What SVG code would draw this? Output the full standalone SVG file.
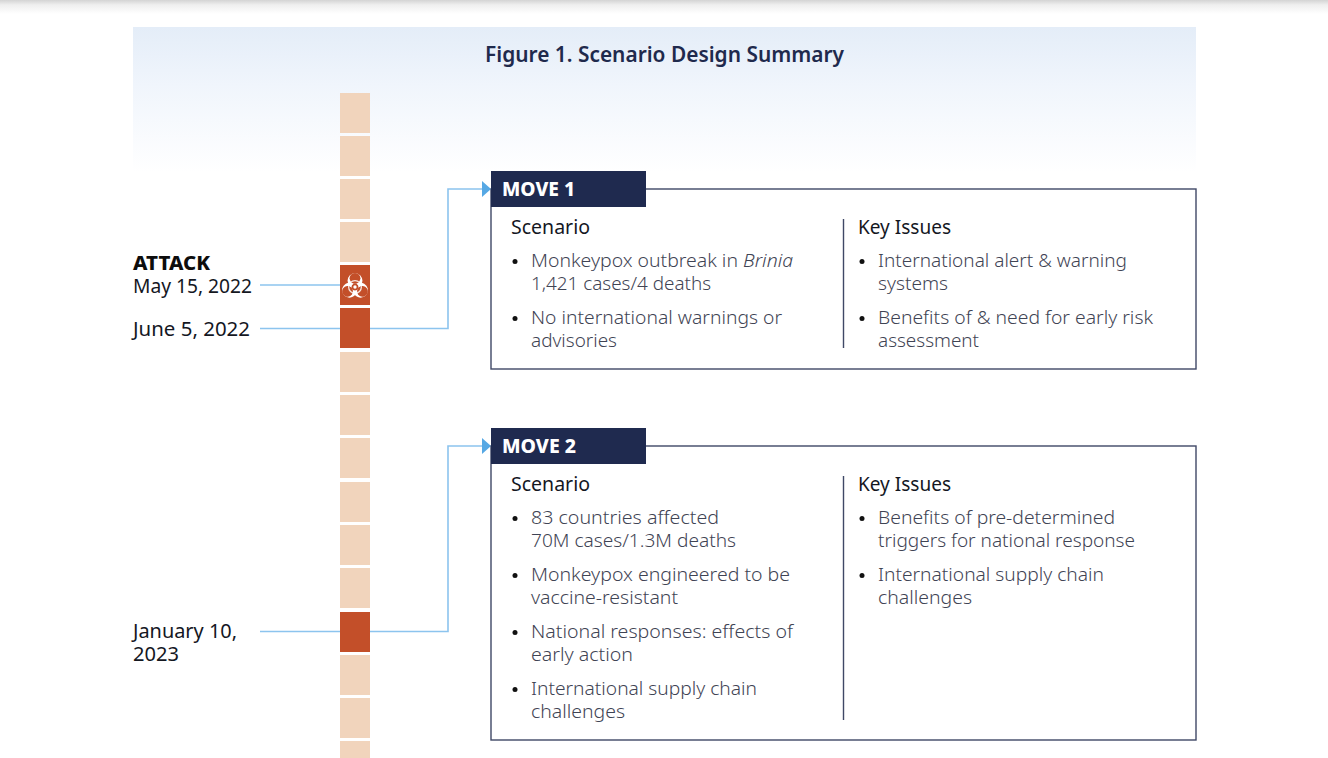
<svg xmlns="http://www.w3.org/2000/svg" width="1328" height="758" viewBox="0 0 1328 758">
<defs>
<linearGradient id="topShade" x1="0" y1="0" x2="0" y2="1"><stop offset="0" stop-color="#d4d4d4"/><stop offset="0.35" stop-color="#efefef"/><stop offset="1" stop-color="#ffffff"/></linearGradient>
<linearGradient id="band" x1="0" y1="0" x2="0" y2="1"><stop offset="0" stop-color="#e4edf8"/><stop offset="0.4" stop-color="#f0f5fc"/><stop offset="1" stop-color="#ffffff"/></linearGradient>
<mask id="lobeCut" maskUnits="userSpaceOnUse" x="-14" y="-14" width="28" height="28">
<rect x="-14" y="-14" width="28" height="28" fill="#fff"/>
<circle cx="0" cy="-7.200" r="4.500" fill="#000"/>
<circle cx="0" cy="0" r="3" fill="#000"/>
</mask>
<g id="lobe"><circle cx="0" cy="-5.300" r="6.200" fill="#fff" mask="url(#lobeCut)"/></g>
</defs>
<style>
text{font-family:"Noto Sans","Liberation Sans",sans-serif;fill:#3f4454;font-size:18.5px;font-weight:300}
.title{font-size:21px;font-weight:600;fill:#1f2a4d}
.b{font-weight:800;fill:#0d0d0d;font-size:19px}
.date{fill:#14171f;font-size:19px;font-weight:400}
.head{font-size:19.5px;font-weight:400;fill:#14171f}
.mv{font-size:19.5px;font-weight:800;fill:#fff}
.seg{fill:#f1d4bc}
.hot{fill:#c34f29}
.frame{fill:#fff;stroke:#3f4866;stroke-width:1.4}
.tab{fill:#1f2a4f}
.div{stroke:#3f4866;stroke-width:1.4;fill:none}
.conn{stroke:#8cc4ee;stroke-width:1.6;fill:none}
.dot{fill:#111}
</style>
<rect width="1328" height="14" fill="url(#topShade)"/>
<rect x="133" y="27" width="1063" height="145" fill="url(#band)"/>
<text class="title" x="485" y="62" textLength="359" lengthAdjust="spacingAndGlyphs">Figure 1. Scenario Design Summary</text>
<g id="timeline">
<rect class="seg" x="340" y="93" width="30" height="40"/>
<rect class="seg" x="340" y="136" width="30" height="40"/>
<rect class="seg" x="340" y="179" width="30" height="40"/>
<rect class="seg" x="340" y="222" width="30" height="40"/>
<rect class="seg" x="340" y="352" width="30" height="40"/>
<rect class="seg" x="340" y="395" width="30" height="40"/>
<rect class="seg" x="340" y="438" width="30" height="40"/>
<rect class="seg" x="340" y="482" width="30" height="40"/>
<rect class="seg" x="340" y="525" width="30" height="40"/>
<rect class="seg" x="340" y="568" width="30" height="40"/>
<rect class="seg" x="340" y="655" width="30" height="40"/>
<rect class="seg" x="340" y="698" width="30" height="40"/>
<rect class="seg" x="340" y="741" width="30" height="17"/>
</g>
<g id="connectors">
<path class="conn" d="M260 285H340"/>
<path class="conn" d="M260 328.500H340"/>
<path class="conn" d="M260 631.500H340"/>
<path class="conn" d="M370 328.500H448V189H483"/>
<path class="conn" d="M370 631.500H448V446H483"/>
<path d="M482 181L491 189L482 197Z" fill="#56a8e4"/>
<path d="M482 438L491 446L482 454Z" fill="#56a8e4"/>
</g>
<g id="attack-marker">
<rect class="hot" x="340" y="265" width="30" height="40"/>
<g transform="translate(355 287) scale(1.200)">
<use href="#lobe"/>
<use href="#lobe" transform="rotate(120)"/>
<use href="#lobe" transform="rotate(240)"/>
<circle r="1.400" fill="#fff"/>
<circle r="5.300" fill="none" stroke="#fff" stroke-width="1.100" opacity="0.85"/>
</g>
</g>
<g id="june-marker"><rect class="hot" x="340" y="308" width="30" height="40"/></g>
<g id="january-marker"><rect class="hot" x="340" y="612" width="30" height="40"/></g>
<g id="date-labels">
<text class="b" x="133" y="269.500" textLength="77" lengthAdjust="spacingAndGlyphs">ATTACK</text>
<text class="date" x="133" y="292.500" textLength="119" lengthAdjust="spacingAndGlyphs">May 15, 2022</text>
<text class="date" x="133" y="336" textLength="117" lengthAdjust="spacingAndGlyphs">June 5, 2022</text>
<text class="date" x="133" y="638" textLength="104" lengthAdjust="spacingAndGlyphs">January 10,</text>
<text class="date" x="133" y="661" textLength="46" lengthAdjust="spacingAndGlyphs">2023</text>
</g>
<g id="move1">
<rect class="frame" x="491" y="189" width="705" height="180"/>
<rect class="tab" x="491" y="171" width="155" height="36"/>
<text class="mv" x="502" y="196" textLength="73" lengthAdjust="spacingAndGlyphs">MOVE 1</text>
<text class="head" x="511" y="234" textLength="79" lengthAdjust="spacingAndGlyphs">Scenario</text>
<circle class="dot" cx="515" cy="261.500" r="2.500"/>
<text x="531" y="267" textLength="262" lengthAdjust="spacingAndGlyphs">Monkeypox outbreak in <tspan font-style="italic">Brinia</tspan></text>
<text x="531" y="290" textLength="180" lengthAdjust="spacingAndGlyphs">1,421 cases/4 deaths</text>
<circle class="dot" cx="515" cy="318.500" r="2.500"/>
<text x="531" y="324" textLength="251" lengthAdjust="spacingAndGlyphs">No international warnings or</text>
<text x="531" y="347" textLength="86" lengthAdjust="spacingAndGlyphs">advisories</text>
<path class="div" d="M843.500 219V348"/>
<text class="head" x="858" y="234" textLength="93" lengthAdjust="spacingAndGlyphs">Key Issues</text>
<circle class="dot" cx="862" cy="261.500" r="2.500"/>
<text x="878" y="267" textLength="249" lengthAdjust="spacingAndGlyphs">International alert &amp; warning</text>
<text x="878" y="290" textLength="70" lengthAdjust="spacingAndGlyphs">systems</text>
<circle class="dot" cx="862" cy="318.500" r="2.500"/>
<text x="878" y="324" textLength="275" lengthAdjust="spacingAndGlyphs">Benefits of &amp; need for early risk</text>
<text x="878" y="347" textLength="101" lengthAdjust="spacingAndGlyphs">assessment</text>
</g>
<g id="move2">
<rect class="frame" x="491" y="446" width="705" height="294"/>
<rect class="tab" x="491" y="428" width="155" height="36"/>
<text class="mv" x="502" y="453" textLength="74" lengthAdjust="spacingAndGlyphs">MOVE 2</text>
<text class="head" x="511" y="491" textLength="79" lengthAdjust="spacingAndGlyphs">Scenario</text>
<circle class="dot" cx="515" cy="518.500" r="2.500"/>
<text x="531" y="524" textLength="188" lengthAdjust="spacingAndGlyphs">83 countries affected</text>
<text x="531" y="547" textLength="205" lengthAdjust="spacingAndGlyphs">70M cases/1.3M deaths</text>
<circle class="dot" cx="515" cy="575.500" r="2.500"/>
<text x="531" y="581" textLength="259" lengthAdjust="spacingAndGlyphs">Monkeypox engineered to be</text>
<text x="531" y="604" textLength="147" lengthAdjust="spacingAndGlyphs">vaccine-resistant</text>
<circle class="dot" cx="515" cy="632.500" r="2.500"/>
<text x="531" y="638" textLength="262" lengthAdjust="spacingAndGlyphs">National responses: effects of</text>
<text x="531" y="661" textLength="102" lengthAdjust="spacingAndGlyphs">early action</text>
<circle class="dot" cx="515" cy="689.500" r="2.500"/>
<text x="531" y="695" textLength="226" lengthAdjust="spacingAndGlyphs">International supply chain</text>
<text x="531" y="718" textLength="94" lengthAdjust="spacingAndGlyphs">challenges</text>
<path class="div" d="M843.500 476V720"/>
<text class="head" x="858" y="491" textLength="93" lengthAdjust="spacingAndGlyphs">Key Issues</text>
<circle class="dot" cx="862" cy="518.500" r="2.500"/>
<text x="878" y="524" textLength="237" lengthAdjust="spacingAndGlyphs">Benefits of pre-determined</text>
<text x="878" y="547" textLength="257" lengthAdjust="spacingAndGlyphs">triggers for national response</text>
<circle class="dot" cx="862" cy="575.500" r="2.500"/>
<text x="878" y="581" textLength="226" lengthAdjust="spacingAndGlyphs">International supply chain</text>
<text x="878" y="604" textLength="94" lengthAdjust="spacingAndGlyphs">challenges</text>
</g>
</svg>
